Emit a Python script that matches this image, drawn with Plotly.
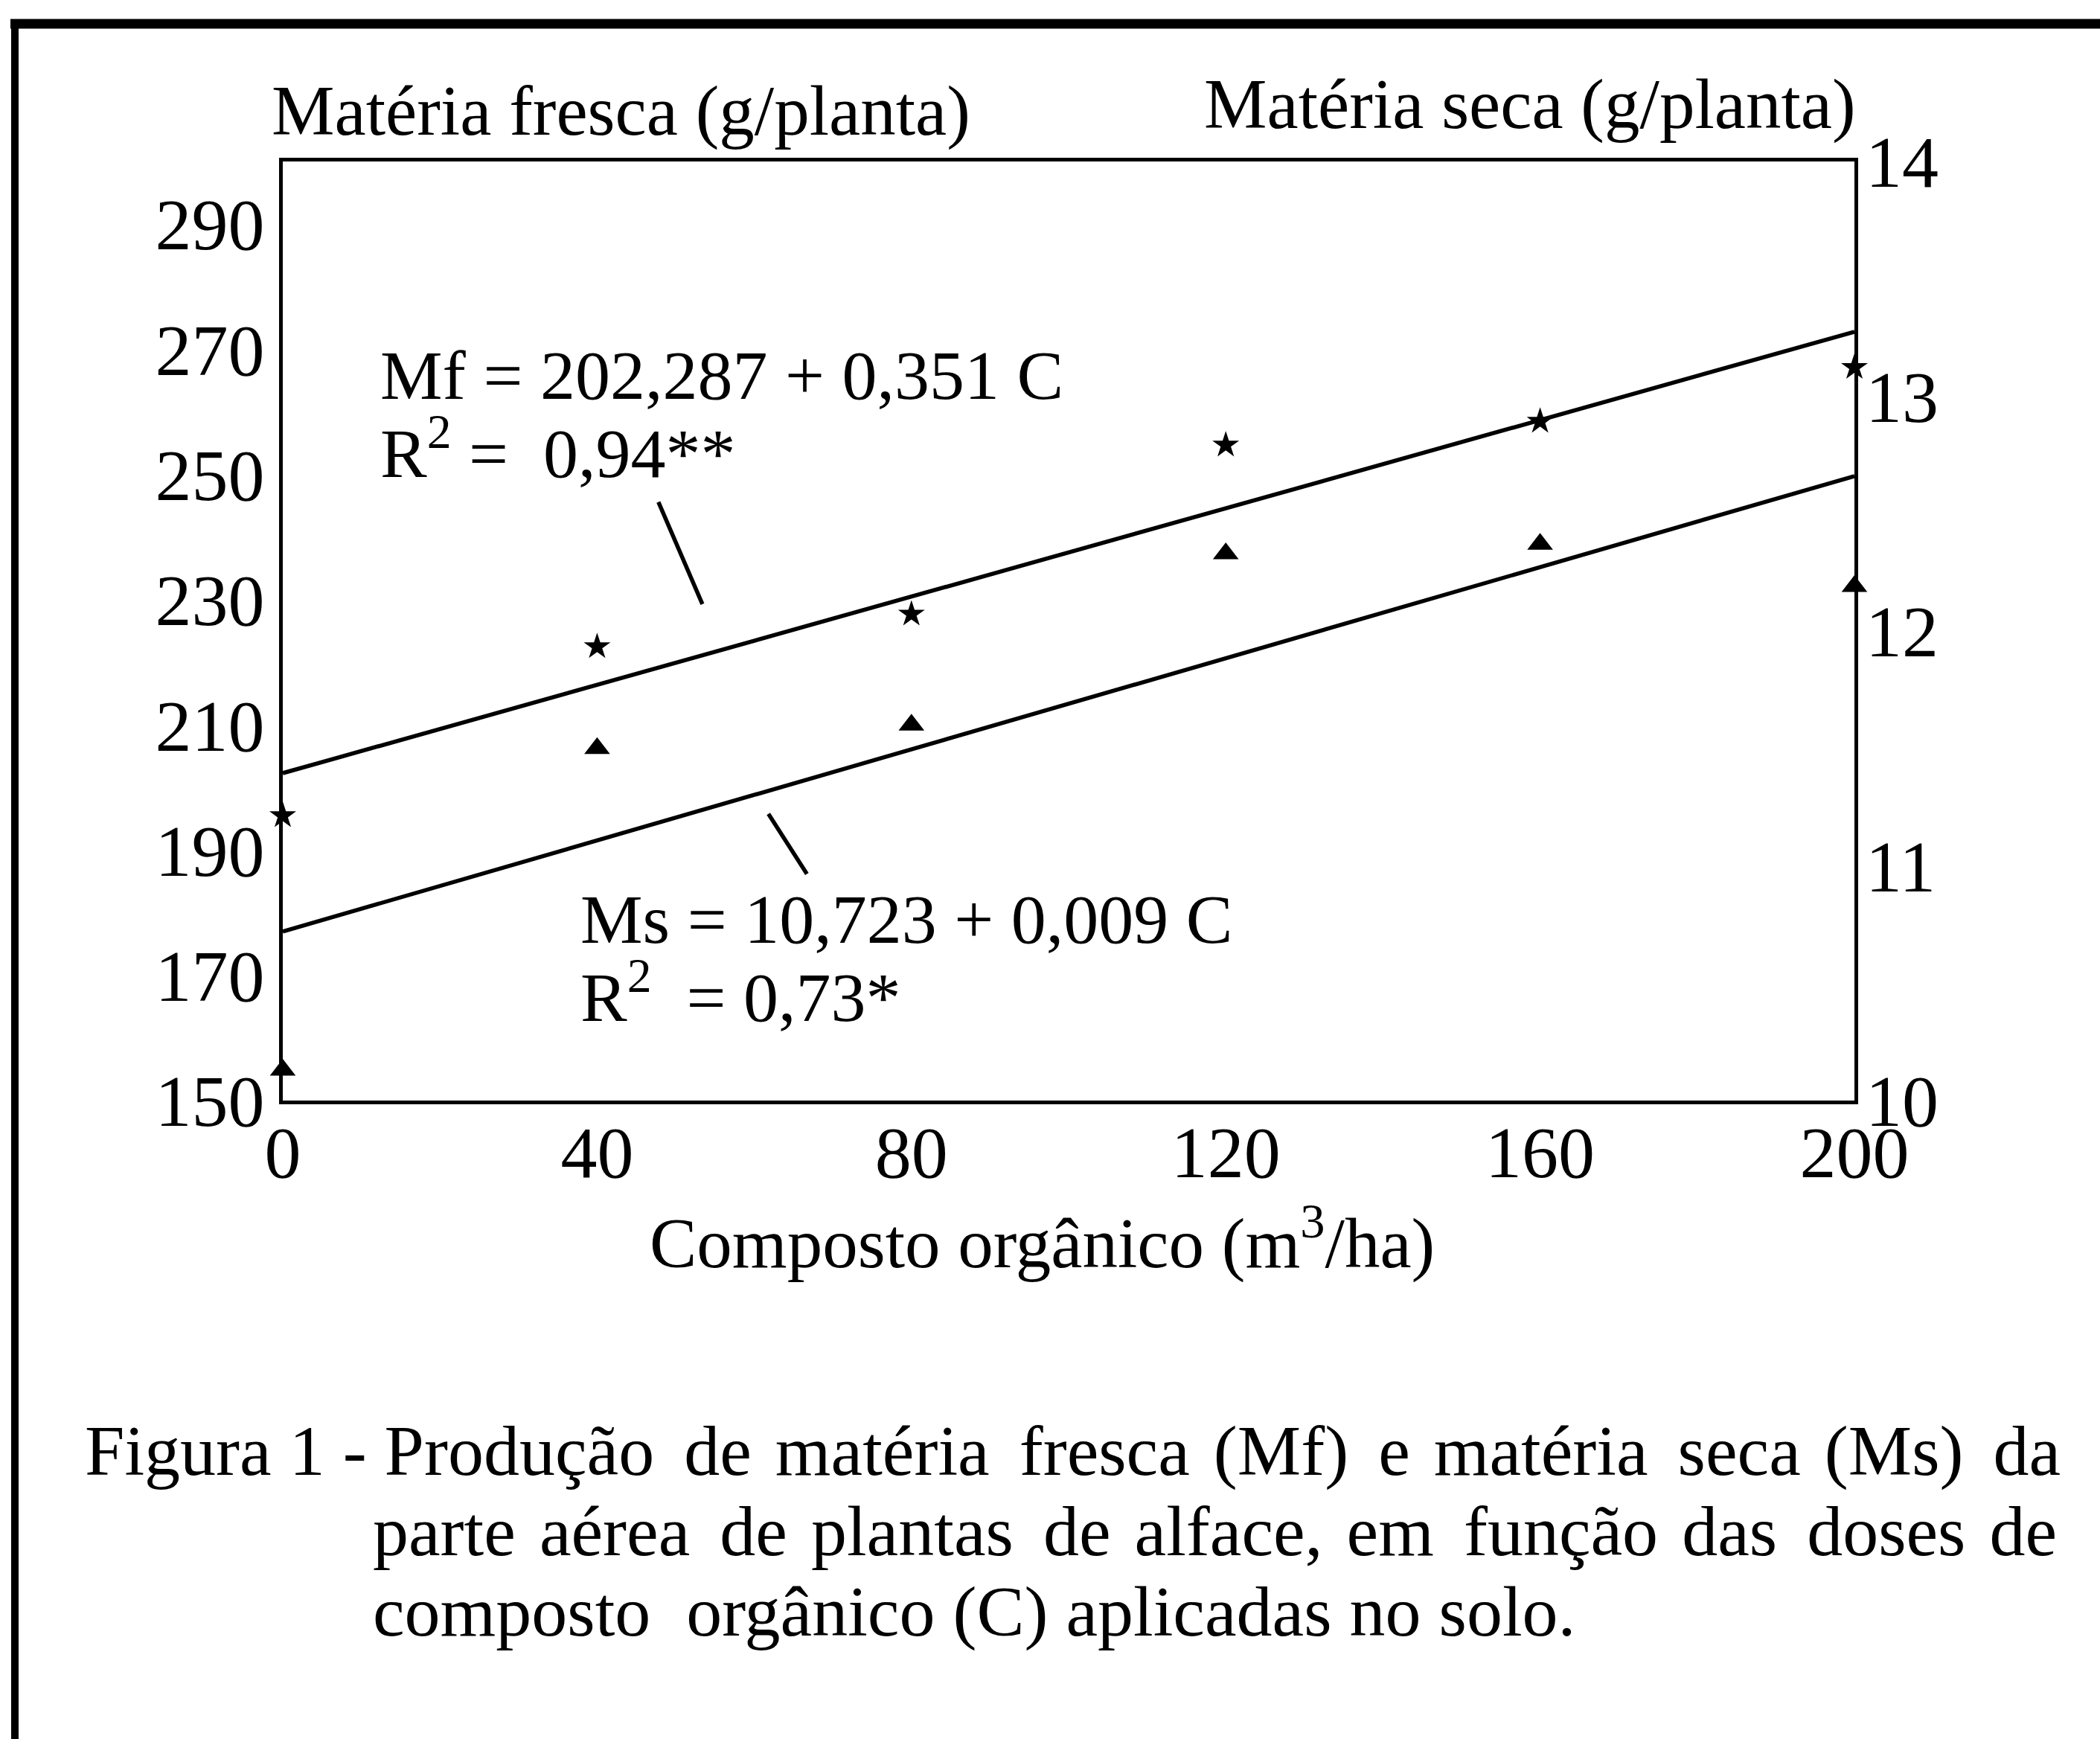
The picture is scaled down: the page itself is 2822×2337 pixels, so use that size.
import plotly.graph_objects as go

W, H = 2822, 2337

# ---- data ----
doses = [0, 40, 80, 120, 160, 200]                      # Composto orgânico (m3/ha)
mf_obs = [195.5, 222.5, 227.7, 254.7, 258.5, 267.1]      # Matéria fresca (g/planta)
ms_obs = [10.13, 11.50, 11.60, 12.33, 12.37, 12.19]      # Matéria seca (g/planta)
fit_x = [0, 200]
mf_fit = [202.3, 272.8]
ms_fit = [10.72, 12.66]
leader_mf_x = [47.8, 53.4]
leader_mf_y = [245.6, 229.3]
leader_ms_x = [61.8, 66.7]
leader_ms_y = [195.8, 186.2]
left_ticks = [150, 170, 190, 210, 230, 250, 270, 290]
right_ticks = [10, 11, 12, 13, 14]
x_ticks = [0, 40, 80, 120, 160, 200]

FONT = "Liberation Serif"
BLACK = "#000000"
HS = "\u200a"   # hair space used to justify the caption

def px(x):
    return x / W

def py(y):
    return 1 - y / H

fig = go.Figure()
line_style = dict(color=BLACK, width=5.5)
fig.add_trace(go.Scatter(x=fit_x, y=mf_fit, mode="lines", line=line_style, yaxis="y"))
fig.add_trace(go.Scatter(x=fit_x, y=ms_fit, mode="lines", line=line_style, yaxis="y2"))
fig.add_trace(go.Scatter(x=leader_mf_x, y=leader_mf_y, mode="lines", line=line_style, yaxis="y"))
fig.add_trace(go.Scatter(x=leader_ms_x, y=leader_ms_y, mode="lines", line=line_style, yaxis="y"))
fig.add_trace(go.Scatter(x=doses, y=mf_obs, mode="markers", yaxis="y", cliponaxis=False,
                         marker=dict(symbol="star", size=27, color=BLACK, line=dict(width=0))))
fig.add_trace(go.Scatter(x=doses, y=ms_obs, mode="markers", yaxis="y2", cliponaxis=False,
                         marker=dict(symbol="triangle-up", size=30, color=BLACK, line=dict(width=0))))

tickfont = dict(family=FONT, size=98, color=BLACK)
fig.update_layout(
    template="none",
    width=W, height=H,
    margin=dict(l=0, r=0, t=0, b=0, pad=0),
    paper_bgcolor="white", plot_bgcolor="white",
    showlegend=False,
    font=dict(family=FONT, size=96, color=BLACK),
    xaxis=dict(domain=[380 / W, 2492 / W], range=[0, 200], tickvals=x_ticks,
               showgrid=False, zeroline=False, showline=True, mirror=True, automargin=False,
               linecolor=BLACK, linewidth=5, ticks="", tickfont=tickfont,
               ticklabelstandoff=-20),
    yaxis=dict(domain=[py(1479), py(217)], range=[150, 300], tickvals=left_ticks,
               showgrid=False, zeroline=False, showline=True, mirror=True, automargin=False,
               linecolor=BLACK, linewidth=5, ticks="", tickfont=tickfont,
               ticklabelstandoff=0),
    yaxis2=dict(domain=[py(1479), py(217)], range=[10, 14], tickvals=right_ticks,
                overlaying="y", side="right", anchor="x", automargin=False,
                showgrid=False, zeroline=False, showline=False, ticks="",
                tickfont=tickfont, ticklabelstandoff=14),
)

def ann(text, x, y, xanchor="left", size=96):
    fig.add_annotation(text=text, x=px(x), y=py(y), xref="paper", yref="paper",
                       xanchor=xanchor, yanchor="middle", showarrow=False,
                       font=dict(family=FONT, size=size, color=BLACK))

ann("Matéria fresca (g/planta)", 834, 149, "center", 95)
ann("Matéria seca (g/planta)", 2056, 140, "center", 95)
ann("Composto orgânico (m<sup>3</sup>/ha)", 1400, 1664, "center", 95)
ann("Mf = 202,287 + 0,351 C", 509, 504, size=94)
ann("R<sup>2</sup> =\u00a0\u00a00,94**", 509, 602, size=94)
ann("Ms = 10,723 + 0,009 C", 778, 1235, size=94)
ann("R<sup>2</sup>\u00a0\u00a0= 0,73*", 778, 1333, size=94)


def justify(words, extra):
    # join words with a normal space plus the given number of hair spaces per gap
    out = words[0]
    for w, n in zip(words[1:], extra):
        out += " " + HS * n + w
    return out

line1_head = "Figura 1 - "
line1_words = ["Produção", "de", "matéria", "fresca", "(Mf)", "e", "matéria", "seca", "(Ms)", "da"]
line1_gaps = [2, 1, 2, 1, 2, 1, 2, 1, 2]
line2_words = ["parte", "aérea", "de", "plantas", "de", "alface,", "em", "função", "das", "doses", "de"]
line2_gaps = [1, 2, 1, 2, 1, 1, 2, 1, 2, 1]
line3 = "composto\u00a0 orgânico (C) aplicadas no solo."
ann(line1_head + justify(line1_words, line1_gaps), 112, 1949)
ann(justify(line2_words, line2_gaps), 499, 2057)
ann(line3, 499, 2165)

# outer frame of the figure
fig.add_shape(type="line", xref="paper", yref="paper", x0=px(14), x1=1, y0=py(32), y1=py(32),
              line=dict(color=BLACK, width=13))
fig.add_shape(type="line", xref="paper", yref="paper", x0=px(20), x1=px(20), y0=py(26), y1=0,
              line=dict(color=BLACK, width=10))

fig.write_html("out.html", config={"displayModeBar": False},
               post_script="document.body.style.margin='0';")
